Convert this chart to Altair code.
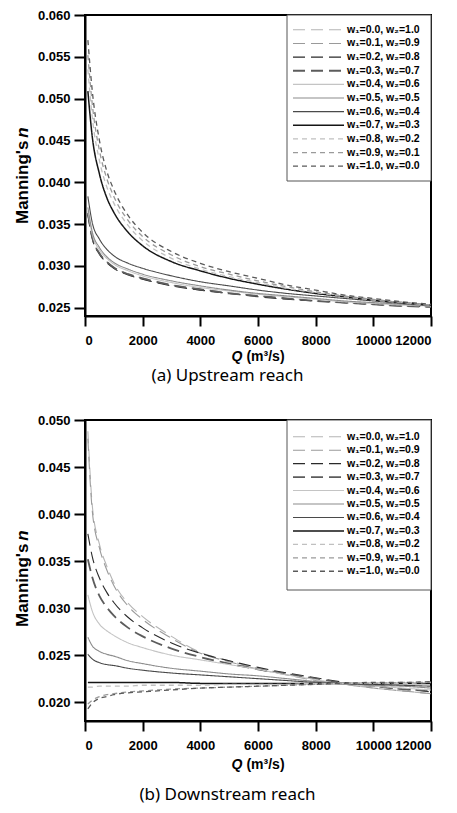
import altair as alt
import pandas as pd

# ---------------- data ----------------
Q = [100, 250, 500, 750, 1000, 1500, 2000, 3000, 4000, 5000, 6000, 7000, 8000, 9000, 10000, 11000, 12000]

labels = ["w₁=0.0, w₂=1.0", "w₁=0.1, w₂=0.9", "w₁=0.2, w₂=0.8", "w₁=0.3, w₂=0.7",
          "w₁=0.4, w₂=0.6", "w₁=0.5, w₂=0.5", "w₁=0.6, w₂=0.4", "w₁=0.7, w₂=0.3",
          "w₁=0.8, w₂=0.2", "w₁=0.9, w₂=0.1", "w₁=1.0, w₂=0.0"]

# (a) Upstream reach
up_00 = [0.0364, 0.0335, 0.0315, 0.0305, 0.0298, 0.0290, 0.0285, 0.0277, 0.0272, 0.0268, 0.0264, 0.0261, 0.0258, 0.0256, 0.0254, 0.0252, 0.0251]
up_01 = [0.0362, 0.0334, 0.0314, 0.0304, 0.0297, 0.0290, 0.0284, 0.0277, 0.0271, 0.0267, 0.0264, 0.0261, 0.0258, 0.0256, 0.0254, 0.0252, 0.0251]
up_02 = [0.0361, 0.0333, 0.0314, 0.0304, 0.0297, 0.0289, 0.0284, 0.0276, 0.0271, 0.0267, 0.0263, 0.0260, 0.0258, 0.0256, 0.0254, 0.0252, 0.0251]
up_03 = [0.0363, 0.0334, 0.0315, 0.0305, 0.0298, 0.0290, 0.0285, 0.0277, 0.0272, 0.0267, 0.0264, 0.0261, 0.0258, 0.0256, 0.0254, 0.0252, 0.0251]
up_04 = [0.0366, 0.0338, 0.0319, 0.0309, 0.0302, 0.0294, 0.0288, 0.0280, 0.0274, 0.0270, 0.0266, 0.0263, 0.0260, 0.0257, 0.0255, 0.0253, 0.0252]
up_05 = [0.0370, 0.0341, 0.0322, 0.0311, 0.0304, 0.0296, 0.0290, 0.0282, 0.0276, 0.0271, 0.0267, 0.0264, 0.0261, 0.0258, 0.0256, 0.0254, 0.0252]
up_06 = [0.0383, 0.0352, 0.0332, 0.0320, 0.0312, 0.0303, 0.0297, 0.0288, 0.0281, 0.0276, 0.0271, 0.0267, 0.0264, 0.0261, 0.0258, 0.0255, 0.0253]
up_07 = [0.0509, 0.0455, 0.0410, 0.0382, 0.0364, 0.0340, 0.0324, 0.0305, 0.0294, 0.0285, 0.0278, 0.0272, 0.0267, 0.0263, 0.0259, 0.0256, 0.0253]
up_08 = [0.0535, 0.0478, 0.0426, 0.0395, 0.0375, 0.0348, 0.0330, 0.0309, 0.0296, 0.0287, 0.0280, 0.0273, 0.0268, 0.0263, 0.0259, 0.0256, 0.0253]
up_09 = [0.0552, 0.0494, 0.0438, 0.0405, 0.0383, 0.0354, 0.0335, 0.0313, 0.0299, 0.0290, 0.0282, 0.0275, 0.0269, 0.0264, 0.0260, 0.0256, 0.0253]
up_10 = [0.0570, 0.0510, 0.0450, 0.0414, 0.0391, 0.0360, 0.0340, 0.0317, 0.0303, 0.0293, 0.0285, 0.0277, 0.0271, 0.0265, 0.0261, 0.0257, 0.0254]

# (b) Downstream reach
dn_00 = [0.0488, 0.0410, 0.0368, 0.0345, 0.0327, 0.0305, 0.0291, 0.0270, 0.0253, 0.0244, 0.0236, 0.0230, 0.0224, 0.0219, 0.0215, 0.0212, 0.0209]
dn_01 = [0.0480, 0.0404, 0.0364, 0.0341, 0.0324, 0.0302, 0.0288, 0.0268, 0.0252, 0.0243, 0.0235, 0.0229, 0.0223, 0.0219, 0.0215, 0.0212, 0.0209]
dn_02 = [0.0379, 0.0355, 0.0332, 0.0317, 0.0306, 0.0290, 0.0279, 0.0263, 0.0252, 0.0244, 0.0237, 0.0231, 0.0226, 0.0221, 0.0217, 0.0214, 0.0211]
dn_03 = [0.0352, 0.0333, 0.0313, 0.0301, 0.0292, 0.0279, 0.0270, 0.0257, 0.0248, 0.0241, 0.0235, 0.0230, 0.0225, 0.0220, 0.0217, 0.0214, 0.0212]
dn_04 = [0.0314, 0.0297, 0.0283, 0.0276, 0.0271, 0.0263, 0.0258, 0.0250, 0.0245, 0.0240, 0.0235, 0.0229, 0.0224, 0.0219, 0.0217, 0.0215, 0.0213]
dn_05 = [0.0269, 0.0260, 0.0254, 0.0251, 0.0249, 0.0244, 0.0241, 0.0236, 0.0233, 0.0230, 0.0228, 0.0225, 0.0222, 0.0220, 0.0218, 0.0217, 0.0215]
dn_06 = [0.0251, 0.0246, 0.0242, 0.0240, 0.0239, 0.0236, 0.0234, 0.0231, 0.0229, 0.0227, 0.0225, 0.0223, 0.0221, 0.0220, 0.0219, 0.0218, 0.0217]
dn_07 = [0.0221, 0.0221, 0.0221, 0.0221, 0.0221, 0.0221, 0.0221, 0.0221, 0.0220, 0.0220, 0.0220, 0.0220, 0.0220, 0.0220, 0.0220, 0.0220, 0.0220]
dn_08 = [0.0216, 0.0216, 0.0217, 0.0217, 0.0217, 0.0217, 0.0218, 0.0218, 0.0218, 0.0219, 0.0219, 0.0219, 0.0220, 0.0220, 0.0220, 0.0220, 0.0221]
dn_09 = [0.0198, 0.0202, 0.0206, 0.0208, 0.0209, 0.0211, 0.0212, 0.0214, 0.0215, 0.0216, 0.0217, 0.0218, 0.0219, 0.0220, 0.0220, 0.0221, 0.0221]
dn_10 = [0.0193, 0.0199, 0.0204, 0.0206, 0.0208, 0.0210, 0.0211, 0.0213, 0.0215, 0.0216, 0.0217, 0.0218, 0.0219, 0.0220, 0.0221, 0.0221, 0.0222]

x_ticks = [0, 2000, 4000, 6000, 8000, 10000, 12000]
up_yticks = [0.025, 0.030, 0.035, 0.040, 0.045, 0.050, 0.055, 0.060]
dn_yticks = [0.020, 0.025, 0.030, 0.035, 0.040, 0.045, 0.050]

# ---------------- styles ----------------
colors = ["#b5b5b5", "#9a9a9a", "#2a2a2a", "#5c5c5c",
          "#c4c4c4", "#8c8c8c", "#4a4a4a", "#151515",
          "#c0c0c0", "#9a9a9a", "#5a5a5a"]
dashes = [[12, 6], [12, 6], [12, 6], [12, 6],
          [1, 0], [1, 0], [1, 0], [1, 0],
          [5, 4], [5, 4], [5, 4]]
widths = [1.1, 1.1, 1.1, 1.8, 1.1, 1.1, 1.1, 1.5, 1.3, 1.3, 1.3]

FONT = "Liberation Sans"
W = 346


def make_df(series):
    rows = []
    for lab, vals, sw in zip(labels, series, widths):
        for q, v in zip(Q, vals):
            rows.append({"Q": q, "n": v, "series": lab, "sw": sw})
    return pd.DataFrame(rows)


legend_df = pd.DataFrame({"series": labels, "sw": widths})


def txt(s, x, y, **kw):
    return alt.Chart(pd.DataFrame({"t": [s]})).mark_text(**kw).encode(
        text="t:N", x=alt.value(x), y=alt.value(y))


color_enc = alt.Color("series:N", scale=alt.Scale(domain=labels, range=colors), legend=None)
dash_enc = alt.StrokeDash("series:N", scale=alt.Scale(domain=labels, range=dashes), legend=None)


def panel(series, ydom, yticks, height, caption, box_h, first_y, last_y, title_shift,
          xt_off, cap_off):
    df = make_df(series)
    lines = alt.Chart(df).mark_line(interpolate="monotone").encode(
        x=alt.X("Q:Q", scale=alt.Scale(domain=[0, 12000], nice=False),
                axis=alt.Axis(values=x_ticks, format="d", title=None,
                              tickSize=10, labelPadding=8)),
        y=alt.Y("n:Q", scale=alt.Scale(domain=ydom, nice=False, zero=False),
                axis=alt.Axis(values=yticks, format=".3f", title=None,
                              tickSize=11, labelPadding=4)),
        color=color_enc,
        strokeDash=dash_enc,
        strokeWidth=alt.StrokeWidth("sw:Q", scale=None),
    )
    # legend (drawn inside the plot, top-right)
    box = alt.Chart(pd.DataFrame({"a": [0]})).mark_rect(
        fill="white", stroke="#555555", strokeWidth=1).encode(
        x=alt.value(202), x2=alt.value(W), y=alt.value(0), y2=alt.value(box_h))
    ley = alt.Y("series:N", scale=alt.Scale(domain=labels, range=[first_y, last_y]), axis=None)
    leg_lines = alt.Chart(legend_df).mark_rule().encode(
        x=alt.value(208), x2=alt.value(259), y=ley,
        color=color_enc, strokeDash=dash_enc,
        strokeWidth=alt.StrokeWidth("sw:Q", scale=None))
    leg_text = alt.Chart(legend_df).mark_text(
        align="left", baseline="middle", font=FONT, fontWeight="bold",
        fontSize=10.5, color="black").encode(
        x=alt.value(262), y=ley, text="series:N")

    fs = 17
    w_n = 0.611 * fs
    w_rest = 5.183 * fs
    total = w_n + w_rest
    c = height / 2 + title_shift
    split = c - total / 2 + w_n
    ytitle1 = txt("Manning's", -62, split + 3, angle=270, align="right", baseline="middle",
                  font=FONT, fontWeight="bold", fontSize=fs, color="black")
    ytitle2 = txt("n", -62, split, angle=270, align="left", baseline="middle",
                  font=FONT, fontWeight="bold", fontStyle="italic", fontSize=fs, color="black")
    fx = 14
    wq = 0.778 * fx
    wr = 3.0 * fx
    x0 = W / 2 - (wq + wr) / 2
    xtitle1 = txt("Q", x0, height + xt_off, align="left", baseline="middle",
                  font=FONT, fontWeight="bold", fontStyle="italic", fontSize=fx, color="black")
    xtitle2 = txt("(m³/s)", x0 + wq + 4, height + xt_off, align="left", baseline="middle",
                  font=FONT, fontWeight="bold", fontSize=fx, color="black")
    cap = txt(caption, 142.5, height + cap_off, align="center", baseline="middle",
              font="Noto Sans", fontSize=17, color="black")
    return alt.layer(lines, box, leg_lines, leg_text, ytitle1, ytitle2, xtitle1, xtitle2, cap
                     ).resolve_scale(y="independent").properties(width=W, height=height)


top = panel([up_00, up_01, up_02, up_03, up_04, up_05, up_06, up_07, up_08, up_09, up_10],
            [0.024, 0.060], up_yticks, 301, "(a) Upstream reach", 166, 8, 158, 11, 41, 60)
bottom = panel([dn_00, dn_01, dn_02, dn_03, dn_04, dn_05, dn_06, dn_07, dn_08, dn_09, dn_10],
               [0.018, 0.050], dn_yticks, 301, "(b) Downstream reach", 170, 10, 158, 9, 44, 74)

chart = alt.vconcat(top, bottom, spacing=28).resolve_scale(
    x="independent", y="independent"
).properties(
    padding={"left": 4, "top": 0, "right": 0, "bottom": 0}
).configure_axis(
    labelFont=FONT, labelFontWeight="bold", labelFontSize=13, labelColor="black",
    domainColor="black", domainWidth=2, tickColor="black", tickWidth=2, grid=False
).configure_view(stroke="black", strokeWidth=2)

chart.save("out.html", embed_options={"renderer": "svg", "actions": False})
